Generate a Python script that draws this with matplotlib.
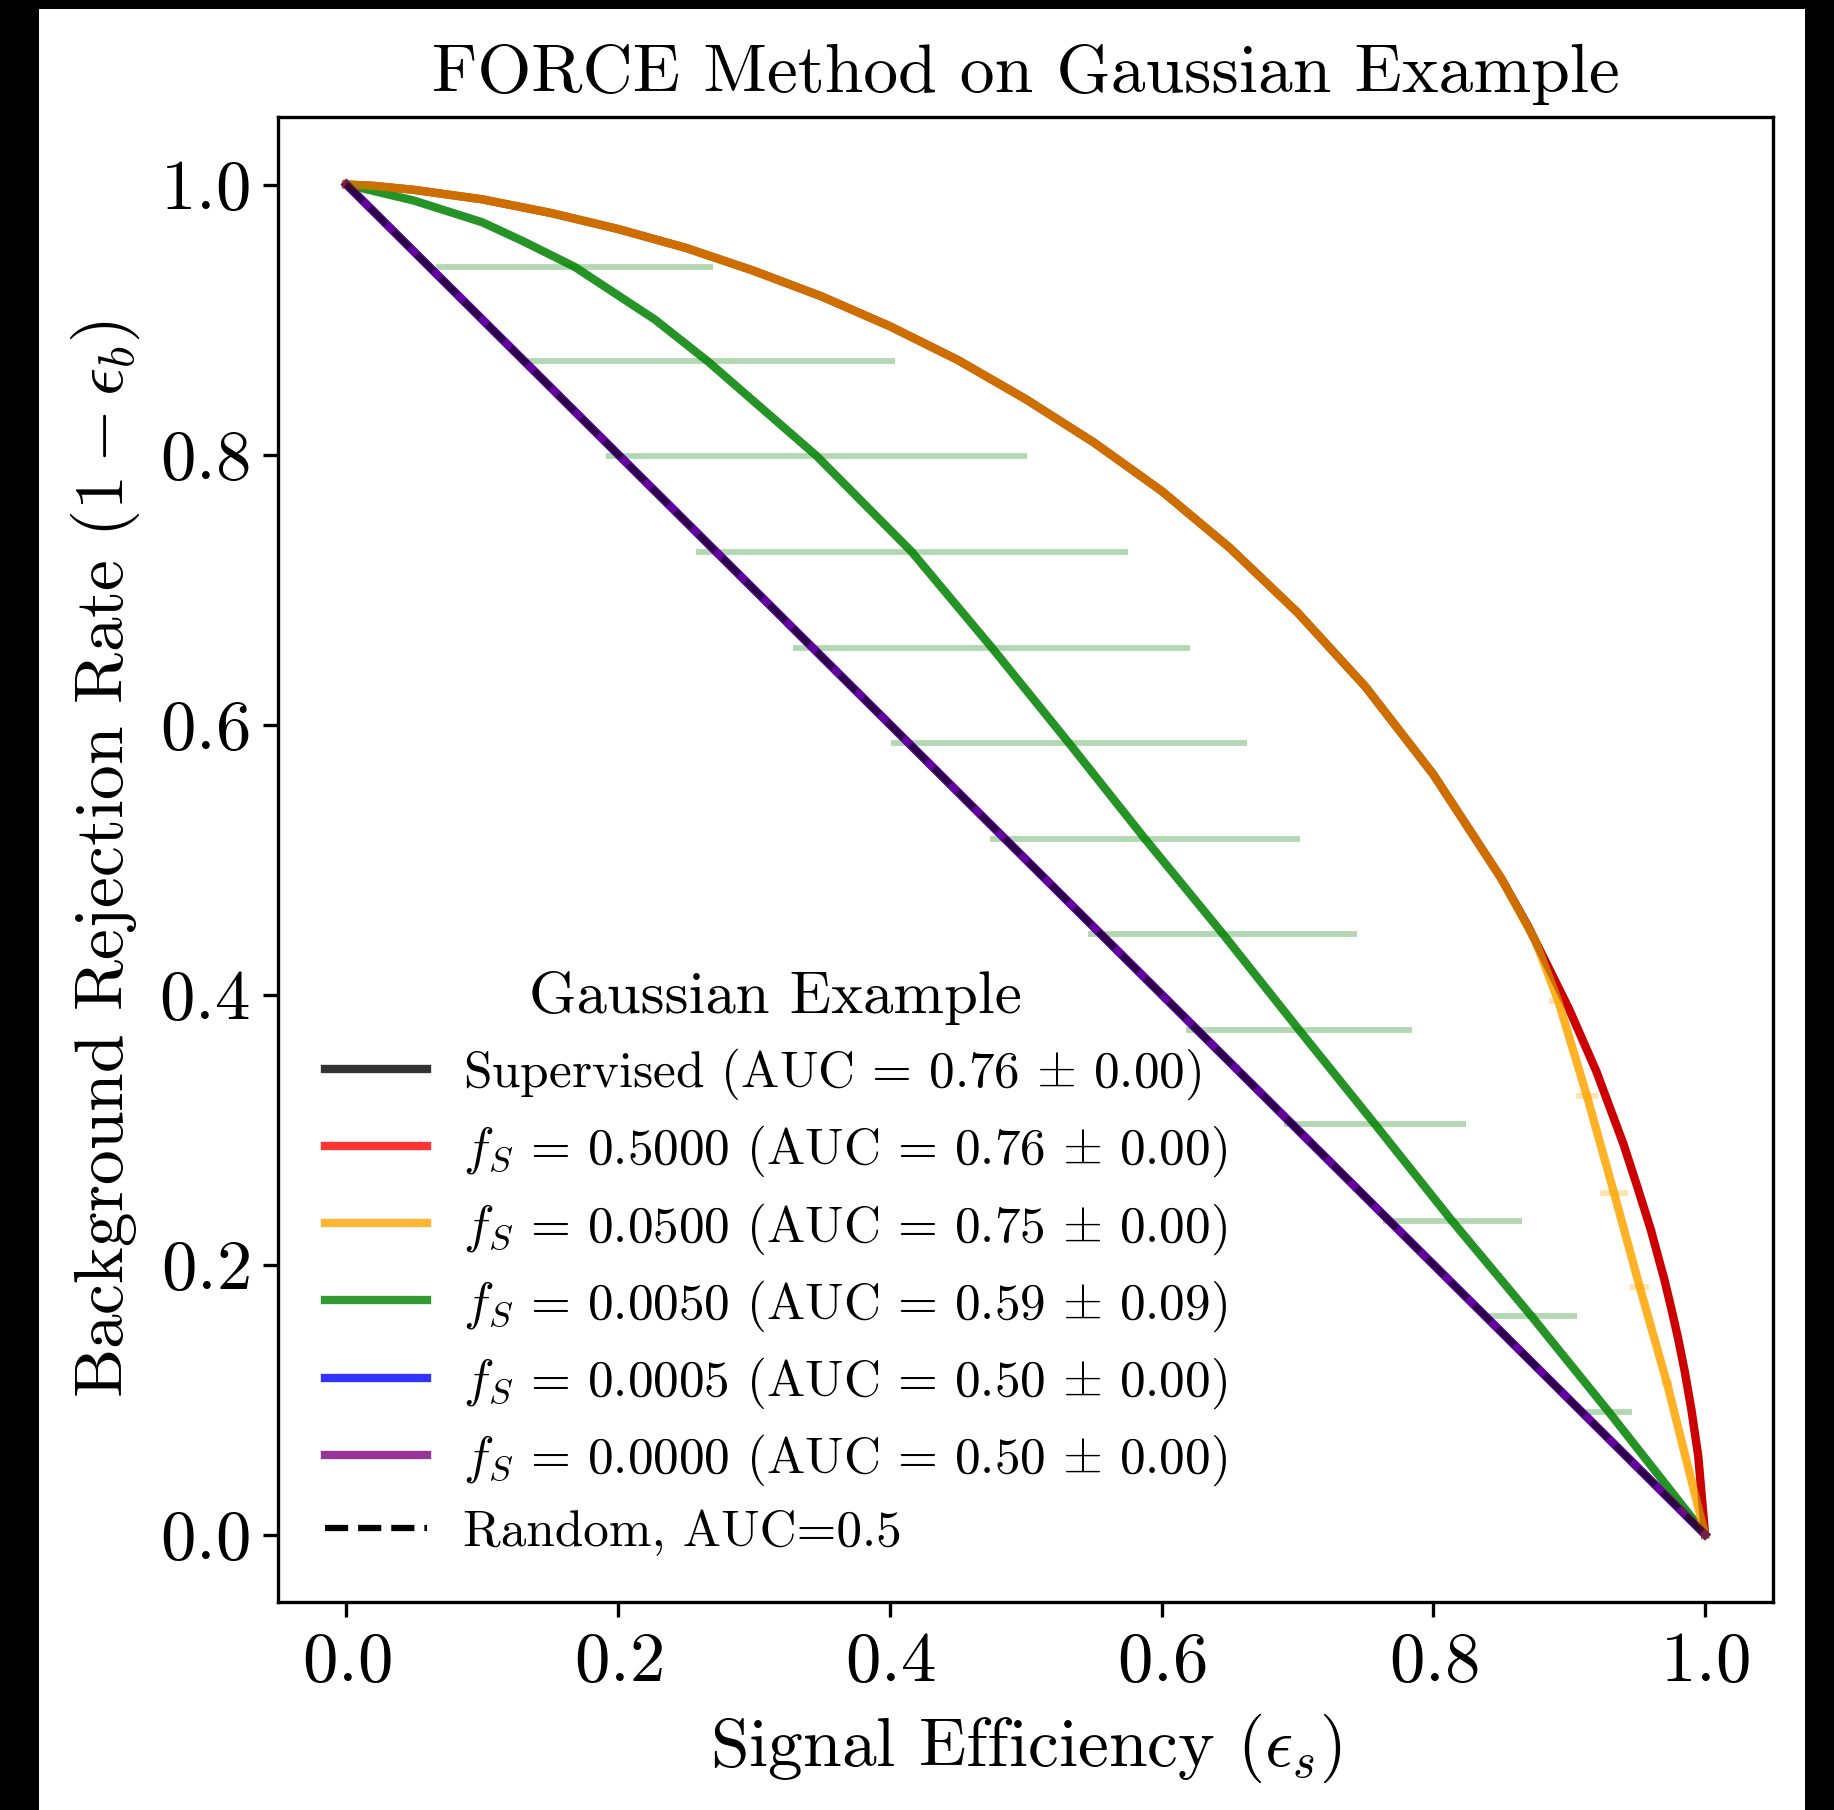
import matplotlib
matplotlib.use("Agg")
import matplotlib.pyplot as plt
from matplotlib.lines import Line2D
from matplotlib.patches import Rectangle

plt.rcParams["font.family"] = "serif"
plt.rcParams["font.serif"] = ["cmr10"]
plt.rcParams["mathtext.fontset"] = "cm"
plt.rcParams["axes.formatter.use_mathtext"] = True
plt.rcParams["axes.unicode_minus"] = False

# ROC curves: signal efficiency vs background rejection
sup_eff = [0, 0.02, 0.05, 0.1, 0.15, 0.2, 0.25, 0.3, 0.35, 0.4, 0.45, 0.5, 0.55, 0.6, 0.65,
           0.7, 0.75, 0.8, 0.85, 0.87, 0.9, 0.92, 0.94, 0.95, 0.96, 0.97, 0.975, 0.98, 0.985,
           0.99, 0.995, 1.0]
sup_rej = [1.0, 0.999, 0.996, 0.989, 0.979, 0.967, 0.953, 0.936, 0.917, 0.895, 0.870, 0.841, 0.809,
           0.773, 0.731, 0.683, 0.628, 0.563, 0.486, 0.45, 0.389, 0.343, 0.289, 0.258, 0.226,
           0.189, 0.168, 0.146, 0.121, 0.092, 0.058, 0.0]

f50_eff = sup_eff
f50_rej = sup_rej

f05_eff = [0, 0.02, 0.05, 0.1, 0.15, 0.2, 0.25, 0.3, 0.35, 0.4, 0.45, 0.5, 0.55, 0.6, 0.65,
           0.7, 0.75, 0.8, 0.85, 0.875, 0.892, 0.913, 0.933, 0.952, 0.972, 0.99, 1.0]
f05_rej = [1.0, 0.999, 0.996, 0.989, 0.979, 0.967, 0.953, 0.936, 0.917, 0.895, 0.870, 0.841, 0.809,
           0.773, 0.731, 0.683, 0.628, 0.563, 0.486, 0.44, 0.395, 0.325, 0.253, 0.183, 0.112,
           0.04, 0.0]
f05_bar_rej = [0.395, 0.325, 0.253, 0.183, 0.112]
f05_bar_eff = [0.892, 0.913, 0.933, 0.952, 0.972]
f05_bar_err = [0.007, 0.008, 0.010, 0.007, 0.004]

f005_eff = [0, 0.05, 0.10, 0.13, 0.168, 0.227, 0.266, 0.346, 0.416, 0.475, 0.532, 0.588,
            0.645, 0.701, 0.757, 0.814, 0.872, 0.929, 1.0]
f005_rej = [1.0, 0.988, 0.972, 0.958, 0.939, 0.900, 0.869, 0.799, 0.728, 0.657, 0.586, 0.515,
            0.445, 0.374, 0.304, 0.232, 0.162, 0.091, 0.0]
f005_bar_rej = [0.939, 0.869, 0.799, 0.728, 0.657, 0.586, 0.515, 0.445, 0.374, 0.304, 0.232, 0.162, 0.091]
f005_bar_eff = [0.168, 0.266, 0.346, 0.416, 0.475, 0.532, 0.588, 0.645, 0.701, 0.757, 0.814, 0.872, 0.929]
f005_bar_err = [0.102, 0.138, 0.155, 0.159, 0.146, 0.131, 0.114, 0.099, 0.083, 0.067, 0.051, 0.034, 0.017]

diag_eff = [0.0, 1.0]
diag_rej = [1.0, 0.0]

fs_labels = ["0.5000", "0.0500", "0.0050", "0.0005", "0.0000"]
auc_mean = [0.76, 0.75, 0.59, 0.50, 0.50]
auc_std = [0.00, 0.00, 0.09, 0.00, 0.00]
sup_auc = (0.76, 0.00)
colors = ["red", "orange", "green", "blue", "purple"]

W, H = 1835, 1810
fig = plt.figure(figsize=(W / 300, H / 300), dpi=300, facecolor="black")
fig.patches.append(Rectangle((39 / W, 0), (1805 - 39) / W, (H - 9) / H, transform=fig.transFigure,
                             facecolor="white", edgecolor="none", zorder=-10))
ax = fig.add_axes([278.5 / W, 1 - 1602 / H, (1773 - 278.5) / W, (1602 - 117) / H])
ax.set_zorder(1)

lw = 2.0
ax.errorbar(f005_bar_eff, f005_bar_rej, xerr=f005_bar_err, fmt="none", ecolor="green", alpha=0.3, elinewidth=1.4)
ax.errorbar(f05_bar_eff, f05_bar_rej, xerr=f05_bar_err, fmt="none", ecolor="orange", alpha=0.3, elinewidth=1.4)

ax.plot(f50_eff, f50_rej, color="red", lw=lw)
ax.plot(diag_eff, diag_rej, color="blue", lw=lw, alpha=0.95)
ax.plot(f005_eff, f005_rej, color="green", lw=lw, alpha=0.85)
ax.plot(f05_eff, f05_rej, color="orange", lw=lw, alpha=0.85)
ax.plot(diag_eff, diag_rej, color="purple", lw=lw, alpha=0.76)
ax.plot(sup_eff, sup_rej, color="black", lw=lw, alpha=0.2)
ax.plot(diag_eff, diag_rej, color="black", ls="--", lw=1.5, alpha=0.55)

handles = [Line2D([], [], color="black", lw=lw, alpha=0.8)]
labels = [f"Supervised (AUC = {sup_auc[0]:.2f} $\\pm$ {sup_auc[1]:.2f})"]
for c, fs, m, s in zip(colors, fs_labels, auc_mean, auc_std):
    handles.append(Line2D([], [], color=c, lw=lw, alpha=0.8))
    labels.append(f"$f_S$ = {fs} (AUC = {m:.2f} $\\pm$ {s:.2f})")
handles.append(Line2D([], [], color="black", ls="--", lw=1.5))
labels.append("Random, AUC=0.5")

ax.legend(handles, labels, loc="lower left", frameon=False, title="Gaussian Example",
          fontsize=12.3, title_fontsize=14.6, labelspacing=0.42, handletextpad=0.7)

ax.set_xlim(-0.05, 1.05)
ax.set_ylim(-0.05, 1.05)
ax.set_xticks([0, 0.2, 0.4, 0.6, 0.8, 1.0])
ax.set_yticks([0, 0.2, 0.4, 0.6, 0.8, 1.0])
ax.tick_params(labelsize=17)
ax.set_xlabel(r"Signal Efficiency $(\epsilon_s)$", fontsize=16.7)
ax.set_ylabel(r"Background Rejection Rate $(1 - \epsilon_b)$", fontsize=16.7)
ax.set_title("FORCE Method on Gaussian Example", fontsize=16.7)

fig.savefig("out.png", dpi=300)
